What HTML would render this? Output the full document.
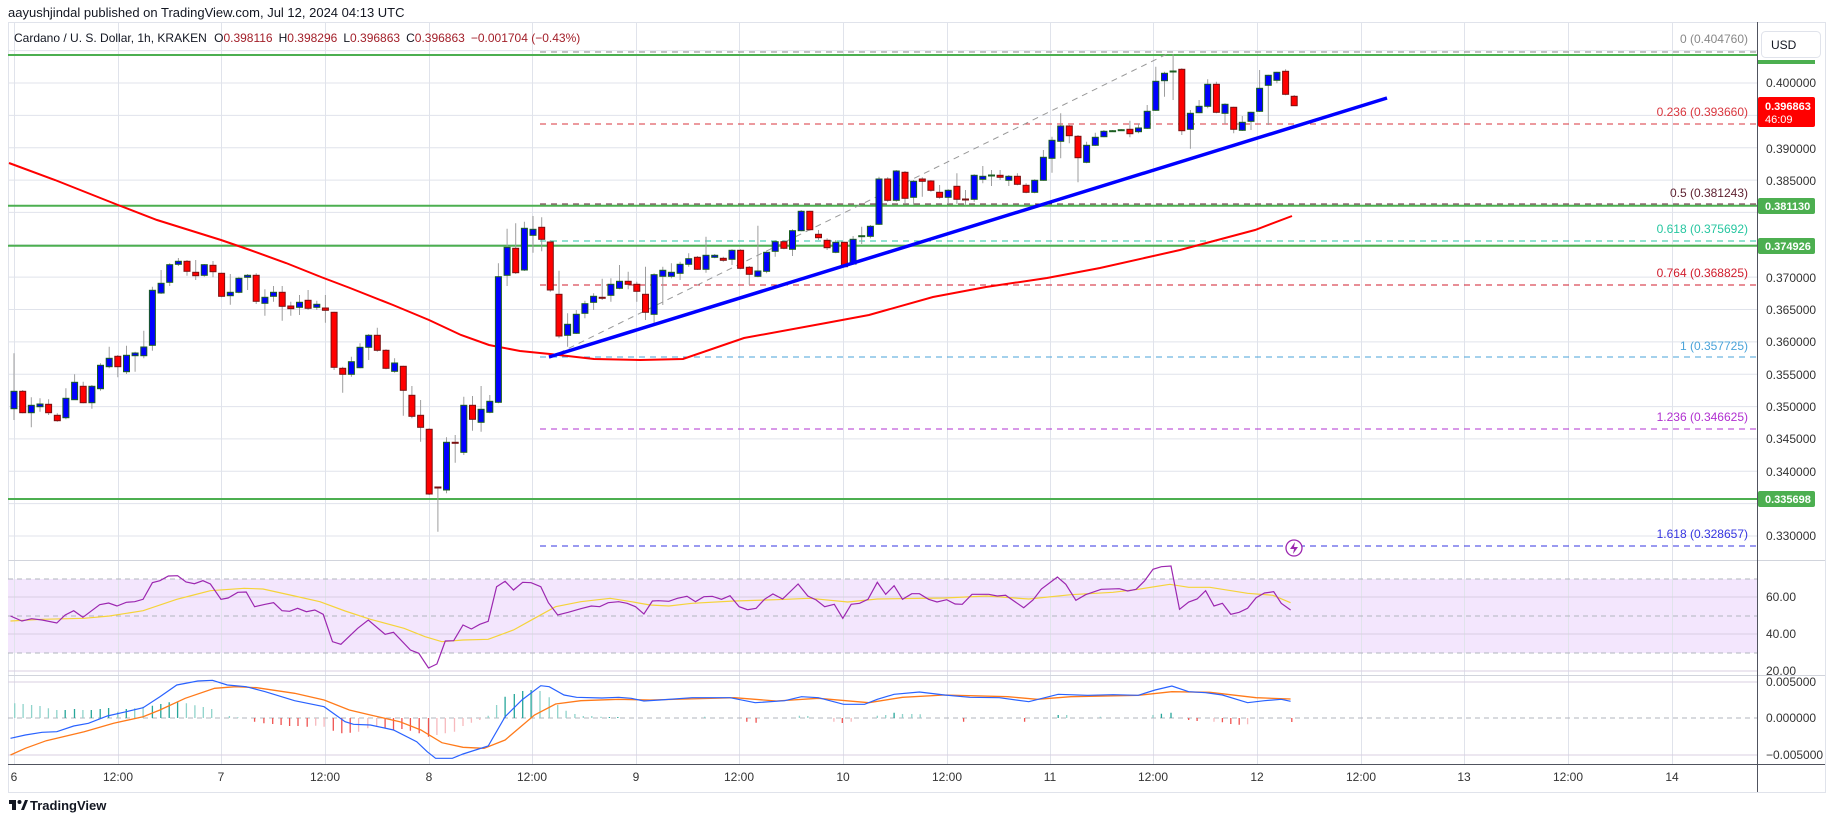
<!DOCTYPE html>
<html><head><meta charset="utf-8"><style>
html,body{margin:0;padding:0;background:#fff;}
svg{display:block;font-family:"Liberation Sans",sans-serif;}
.b{fill:#0000ff;stroke:#1b5e20;stroke-width:1}
.r{fill:#ff0000;stroke:#7b1010;stroke-width:1}
</style></head><body>
<svg width="1835" height="827" viewBox="0 0 1835 827" xmlns="http://www.w3.org/2000/svg">
<rect x="0" y="0" width="1835" height="827" fill="#fff"/>
<text x="8" y="17" font-size="13" fill="#131722">aayushjindal published on TradingView.com, Jul 12, 2024 04:13 UTC</text>
<rect x="8.5" y="22.5" width="1817" height="770" fill="none" stroke="#e0e3eb"/>
<!-- RSI band -->
<rect x="8" y="579" width="1749" height="74" fill="#f3e6fd"/>
<g stroke="#e0e3eb" stroke-width="1">
<path d="M14.5 22V764M118.5 22V764M221.5 22V764M325.5 22V764M429.5 22V764M532.5 22V764M636.5 22V764M739.5 22V764M843.5 22V764M947.5 22V764M1050.5 22V764M1153.5 22V764M1257.5 22V764M1361.5 22V764M1464.5 22V764M1568.5 22V764M1672.5 22V764"/>
<path d="M8 50.6H1757M8 83H1757M8 115.4H1757M8 147.7H1757M8 180.1H1757M8 212.4H1757M8 244.8H1757M8 277.1H1757M8 309.5H1757M8 341.9H1757M8 374.2H1757M8 406.6H1757M8 438.9H1757M8 471.3H1757M8 503.6H1757M8 536H1757"/>
<path d="M8 597H1757M8 634H1757M8 671H1757M8 682H1757M8 755H1757" stroke="#d8cfe2"/>
</g>
<g stroke="#b2b5be" stroke-dasharray="5,4" stroke-width="1">
<line x1="8" y1="579" x2="1757" y2="579"/><line x1="8" y1="616" x2="1757" y2="616"/><line x1="8" y1="653" x2="1757" y2="653"/>
<line x1="8" y1="718" x2="1757" y2="718"/>
</g>
<line x1="8" y1="560.5" x2="1825" y2="560.5" stroke="#d1d4dc"/>
<line x1="8" y1="675.5" x2="1825" y2="675.5" stroke="#d1d4dc"/>
<line x1="8" y1="764.5" x2="1825" y2="764.5" stroke="#50535e"/>
<line x1="1757.5" y1="22" x2="1757.5" y2="792" stroke="#50535e"/>
<!-- green support lines -->
<g stroke="#4caf50" stroke-width="2">
<line x1="8" y1="55" x2="1757" y2="55"/><line x1="8" y1="205.7" x2="1757" y2="205.7"/>
<line x1="8" y1="245.7" x2="1757" y2="245.7"/><line x1="8" y1="499" x2="1757" y2="499"/>
</g>
<!-- fib lines -->
<g stroke-width="1" stroke-dasharray="6,5">
<line x1="540" y1="52" x2="1757" y2="52" stroke="#888"/>
<line x1="540" y1="124" x2="1757" y2="124" stroke="#d9363e"/>
<line x1="540" y1="204" x2="1757" y2="204" stroke="#5d1f2f"/>
<line x1="540" y1="241" x2="1757" y2="241" stroke="#26c6a0"/>
<line x1="540" y1="285" x2="1757" y2="285" stroke="#d01c2c"/>
<line x1="540" y1="357" x2="1757" y2="357" stroke="#4aa3d9"/>
<line x1="540" y1="429" x2="1757" y2="429" stroke="#b030d0"/>
<line x1="540" y1="546" x2="1757" y2="546" stroke="#3535e0"/>
</g>
<line x1="549" y1="358" x2="1171" y2="52" stroke="#999" stroke-dasharray="6,5"/>
<g font-size="12" text-anchor="end">
<text x="1748" y="43" fill="#888">0 (0.404760)</text>
<text x="1748" y="116" fill="#d9363e">0.236 (0.393660)</text>
<text x="1748" y="197" fill="#5d1f2f">0.5 (0.381243)</text>
<text x="1748" y="233" fill="#26c6a0">0.618 (0.375692)</text>
<text x="1748" y="277" fill="#d01c2c">0.764 (0.368825)</text>
<text x="1748" y="350" fill="#4aa3d9">1 (0.357725)</text>
<text x="1748" y="421" fill="#b030d0">1.236 (0.346625)</text>
<text x="1748" y="538" fill="#3535e0">1.618 (0.328657)</text>
</g>
<!-- EMA -->
<polyline fill="none" stroke="#ff0000" stroke-width="2" points="9,163 55,180 118,205 157,220 221,240 250,250 286,263 321,277 350,288 393,305 429,320 461,335 489,345 520,351 550,354 594,359 640,360 683,359 744,338 826,323 869,315 933,297 986,287 1047,278 1100,268 1180,250 1255,230 1292,216"/>
<!-- wicks -->
<path stroke="#9e9e9e" stroke-width="1" fill="none" d="M14 353.3V420M22.7 390V413.3M31.3 397.3V427.3M40 398.3V411.7M48.6 399.3V415M57.3 413.3V421.7M65.9 388.3V419.3M74.6 374.3V400M83.2 381.7V403.3M91.9 385V408.7M100.5 363.3V390.7M109.2 346.7V368.3M117.8 355V377.3M126.5 345.7V374M135.1 351.7V371.7M143.8 330.7V358.3M152.4 286.7V350.7M161.1 270V294M169.7 263.3V286M178.4 258V266M187 260V275.7M195.7 260V280M204.3 264V276.7M213 261V277.3M221.6 272.7V297.3M230.3 274V304.7M238.9 276.7V293.3M247.6 274V290M256.2 273.3V304M264.9 289.3V315.7M273.5 286V301.7M282.2 286V320.7M290.8 301.7V315.7M299.5 295V315M308.1 290V310M316.8 300.7V310M325.4 295V322.7M334.1 311.7V370M342.7 366.7V392.7M351.4 356.7V376.7M360 343.3V368.3M368.7 334V360M377.3 327.7V351.7M386 349.3V369.3M394.6 358.3V372.7M403.3 365.7V415.7M411.9 386V418.3M420.6 400V441.7M429.2 428.3V495M437.9 486.7V531.7M446.5 437.3V493.3M455.2 435V462.7M463.8 396.7V455M472.5 396V430.7M481.1 386V431.7M489.8 395V413.3M498.4 263.3V403.3M507.1 228.7V286M515.7 223.3V274M524.4 221.7V271M533 216V252.7M541.7 217.3V251.3M550.3 240V291.7M559 270.7V338.3M567.6 313.3V346.7M576.3 310V334M584.9 300.7V318.3M593.6 293.3V310M602.2 278.7V300M610.9 278.3V301.7M619.5 265V289.3M628.2 271.7V289.3M636.8 281.7V301.7M645.5 266.7V320M654.1 273.3V323.3M662.8 266.7V305M671.4 263.3V278.3M680.1 261.7V280M688.7 253.3V266.7M697.4 256V270M706 236.7V272.7M714.7 254V258.3M723.3 256.7V261.7M732 249.3V265M740.6 249.3V269.3M749.3 266V285M757.9 225.7V277.3M766.6 251.7V273.3M775.2 240V256.7M783.9 240V249.3M792.5 229.3V256M801.2 210V231.3M809.8 210.7V230.7M818.5 230V240M827.1 238.3V250M835.8 240V253.3M844.4 241.7V267.3M853.1 236V265M861.7 226.7V244M870.4 225V238.3M879 176.7V225M887.7 177.3V201.7M896.3 170V201.7M905 171V204M913.6 180V205M922.3 177.3V196.7M930.9 180V191.7M939.6 185V198.7M948.2 189.3V204M956.9 173.3V204M965.5 190V205.3M974.2 174.3V201.7M982.8 166V183.3M991.5 170V186M1000.1 170V180M1008.8 175V186M1017.4 173.3V185.3M1026.1 183.3V193.3M1034.7 179.3V193.3M1043.4 150V180.7M1052 136.7V172.7M1060.7 113.3V158.3M1069.3 125V143.3M1078 135V182.3M1086.6 141.7V163.3M1095.3 132.7V146M1103.9 130V137.3M1112.6 130V132M1121.2 129V131M1129.9 120.7V137.3M1138.5 123.3V133.3M1147.2 105V129M1155.8 66.7V111M1164.5 71.7V96.7M1173.1 54V100M1181.8 68.3V135M1190.4 110V148.7M1199.1 100V113.3M1207.7 79.3V108.3M1216.4 81.7V113.3M1225 103.3V124M1233.7 106.7V133.3M1242.3 116V131M1251 111.7V130M1259.6 70V112M1268.3 74.7V125M1276.9 71.7V83.3M1285.6 69.3V95.3M1294.2 95V106"/>
<!-- bodies -->
<g>
<rect class="b" x="11" y="391.3" width="6" height="17.4"/><rect class="r" x="19.7" y="391.3" width="6" height="21.4"/><rect class="b" x="28.3" y="405.3" width="6" height="7.4"/><rect class="b" x="37" y="404" width="6" height="2.7"/><rect class="r" x="45.6" y="404.3" width="6" height="8.4"/><rect class="r" x="54.3" y="415.3" width="6" height="5.4"/><rect class="b" x="62.9" y="398.3" width="6" height="19.4"/><rect class="b" x="71.6" y="382.3" width="6" height="17.4"/><rect class="r" x="80.2" y="386.3" width="6" height="16.4"/><rect class="b" x="88.9" y="386.3" width="6" height="16.4"/>
<rect class="b" x="97.5" y="365.3" width="6" height="23.4"/><rect class="b" x="106.2" y="358.3" width="6" height="8.4"/><rect class="r" x="114.8" y="356.3" width="6" height="10.4"/><rect class="b" x="123.5" y="355.3" width="6" height="16.4"/><rect class="b" x="132.1" y="353" width="6" height="2.7"/><rect class="b" x="140.8" y="347" width="6" height="8.7"/><rect class="b" x="149.4" y="290.3" width="6" height="55"/><rect class="b" x="158.1" y="283.3" width="6" height="9.7"/><rect class="b" x="166.7" y="264.7" width="6" height="17.6"/><rect class="b" x="175.4" y="261.3" width="6" height="3"/>
<rect class="r" x="184" y="261.3" width="6" height="10"/><rect class="r" x="192.7" y="272.3" width="6" height="3.4"/><rect class="b" x="201.3" y="264.7" width="6" height="10.6"/><rect class="r" x="210" y="265.3" width="6" height="6.4"/><rect class="r" x="218.6" y="273.3" width="6" height="23"/><rect class="b" x="227.3" y="292.3" width="6" height="3.4"/><rect class="b" x="235.9" y="278.3" width="6" height="14"/><rect class="b" x="244.6" y="275.3" width="6" height="2"/><rect class="r" x="253.2" y="275.3" width="6" height="26"/><rect class="b" x="261.9" y="297.3" width="6" height="6"/>
<rect class="b" x="270.5" y="292.3" width="6" height="4"/><rect class="r" x="279.2" y="292.3" width="6" height="14"/><rect class="r" x="287.8" y="306" width="6" height="2.7"/><rect class="b" x="296.5" y="302.3" width="6" height="5"/><rect class="r" x="305.1" y="300.3" width="6" height="8"/><rect class="b" x="313.8" y="304.3" width="6" height="3"/><rect class="r" x="322.4" y="308" width="6" height="2.3"/><rect class="r" x="331.1" y="312.3" width="6" height="55"/><rect class="r" x="339.7" y="368.3" width="6" height="6"/><rect class="b" x="348.4" y="361.7" width="6" height="12.6"/>
<rect class="b" x="357" y="347.3" width="6" height="20.4"/><rect class="b" x="365.7" y="335.3" width="6" height="12"/><rect class="r" x="374.3" y="335.3" width="6" height="15"/><rect class="r" x="383" y="350.3" width="6" height="18"/><rect class="b" x="391.6" y="363" width="6" height="8.3"/><rect class="r" x="400.3" y="366.3" width="6" height="24"/><rect class="r" x="408.9" y="395.3" width="6" height="21"/><rect class="r" x="417.6" y="415.3" width="6" height="12"/><rect class="r" x="426.2" y="429.3" width="6" height="64.7"/><rect class="r" x="434.9" y="487" width="6" height="1"/>
<rect class="b" x="443.5" y="442.3" width="6" height="47.7"/><rect class="r" x="452.2" y="442.3" width="6" height="1"/><rect class="b" x="460.8" y="405.3" width="6" height="47"/><rect class="r" x="469.5" y="405.3" width="6" height="14"/><rect class="b" x="478.1" y="409.3" width="6" height="13"/><rect class="b" x="486.8" y="401.3" width="6" height="11"/><rect class="b" x="495.4" y="276.7" width="6" height="125.6"/><rect class="b" x="504.1" y="247.3" width="6" height="28"/><rect class="r" x="512.7" y="248.3" width="6" height="24.4"/><rect class="b" x="521.4" y="228.3" width="6" height="41.7"/>
<rect class="b" x="530" y="229.3" width="6" height="6"/><rect class="r" x="538.7" y="227.3" width="6" height="12"/><rect class="r" x="547.3" y="242" width="6" height="48"/><rect class="r" x="556" y="294.3" width="6" height="41.7"/><rect class="b" x="564.6" y="324.3" width="6" height="11"/><rect class="b" x="573.3" y="314.3" width="6" height="19"/><rect class="b" x="581.9" y="303.7" width="6" height="9.6"/><rect class="b" x="590.6" y="296.3" width="6" height="6"/><rect class="r" x="599.2" y="297.3" width="6" height="1"/><rect class="b" x="607.9" y="284.3" width="6" height="11"/>
<rect class="b" x="616.5" y="281.3" width="6" height="7"/><rect class="r" x="625.2" y="281.3" width="6" height="3"/><rect class="r" x="633.8" y="284.3" width="6" height="7"/><rect class="r" x="642.5" y="294.3" width="6" height="18"/><rect class="b" x="651.1" y="274.7" width="6" height="39.6"/><rect class="b" x="659.8" y="270.3" width="6" height="6"/><rect class="b" x="668.4" y="272.3" width="6" height="4"/><rect class="b" x="677.1" y="264.3" width="6" height="9"/><rect class="b" x="685.7" y="258.7" width="6" height="5.6"/><rect class="r" x="694.4" y="257.3" width="6" height="12"/>
<rect class="b" x="703" y="255.3" width="6" height="14"/><rect class="b" x="711.7" y="255.3" width="6" height="2"/><rect class="r" x="720.3" y="258.3" width="6" height="2"/><rect class="b" x="729" y="250.3" width="6" height="9"/><rect class="r" x="737.6" y="250.3" width="6" height="18"/><rect class="r" x="746.3" y="267.3" width="6" height="7"/><rect class="b" x="754.9" y="271" width="6" height="5.3"/><rect class="b" x="763.6" y="252.3" width="6" height="19"/><rect class="b" x="772.2" y="241.7" width="6" height="9.6"/><rect class="r" x="780.9" y="241.7" width="6" height="6.6"/>
<rect class="b" x="789.5" y="230.7" width="6" height="18.6"/><rect class="b" x="798.2" y="211.3" width="6" height="19.4"/><rect class="r" x="806.8" y="211.3" width="6" height="18.4"/><rect class="r" x="815.5" y="234.3" width="6" height="3.4"/><rect class="r" x="824.1" y="240.3" width="6" height="7.4"/><rect class="b" x="832.8" y="242.3" width="6" height="10"/><rect class="r" x="841.4" y="242.3" width="6" height="24.4"/><rect class="b" x="850.1" y="239.3" width="6" height="24.7"/><rect class="b" x="858.7" y="235.7" width="6" height="1"/><rect class="b" x="867.4" y="226.3" width="6" height="10"/>
<rect class="b" x="876" y="179" width="6" height="45.3"/><rect class="r" x="884.7" y="179" width="6" height="21.3"/><rect class="b" x="893.3" y="171" width="6" height="29.3"/><rect class="r" x="902" y="172.3" width="6" height="26"/><rect class="b" x="910.6" y="181.3" width="6" height="16"/><rect class="r" x="919.3" y="179" width="6" height="2.3"/><rect class="r" x="927.9" y="181" width="6" height="9.3"/><rect class="r" x="936.6" y="192.3" width="6" height="5"/><rect class="b" x="945.2" y="190.3" width="6" height="7"/><rect class="r" x="953.9" y="186.3" width="6" height="13"/>
<rect class="r" x="962.5" y="199" width="6" height="1"/><rect class="b" x="971.2" y="175.3" width="6" height="24"/><rect class="b" x="979.8" y="176.3" width="6" height="3"/><rect class="b" x="988.5" y="175" width="6" height="1"/><rect class="r" x="997.1" y="175.3" width="6" height="2"/><rect class="b" x="1005.8" y="176.3" width="6" height="4"/><rect class="r" x="1014.4" y="176.3" width="6" height="8"/><rect class="r" x="1023.1" y="185.3" width="6" height="7"/><rect class="b" x="1031.7" y="180.3" width="6" height="12"/><rect class="b" x="1040.4" y="157.3" width="6" height="23"/>
<rect class="b" x="1049" y="140.3" width="6" height="18"/><rect class="b" x="1057.7" y="126" width="6" height="15.3"/><rect class="r" x="1066.3" y="126" width="6" height="9.7"/><rect class="r" x="1075" y="136.3" width="6" height="21.4"/><rect class="b" x="1083.6" y="145.3" width="6" height="17"/><rect class="b" x="1092.3" y="137.3" width="6" height="8"/><rect class="b" x="1100.9" y="131.3" width="6" height="5.4"/><rect class="b" x="1109.6" y="130.7" width="6" height="1"/><rect class="b" x="1118.2" y="129.7" width="6" height="1"/><rect class="r" x="1126.9" y="129.3" width="6" height="4.4"/>
<rect class="b" x="1135.5" y="128" width="6" height="3.7"/><rect class="b" x="1144.2" y="111.3" width="6" height="17"/><rect class="b" x="1152.8" y="81.3" width="6" height="29"/><rect class="b" x="1161.5" y="73.3" width="6" height="7.4"/><rect class="b" x="1170.1" y="71" width="6" height="1"/><rect class="r" x="1178.8" y="69.3" width="6" height="61.4"/><rect class="b" x="1187.4" y="113.3" width="6" height="16"/><rect class="b" x="1196.1" y="106.3" width="6" height="6.4"/><rect class="b" x="1204.7" y="84.3" width="6" height="22"/><rect class="r" x="1213.4" y="84.3" width="6" height="28"/>
<rect class="b" x="1222" y="104.3" width="6" height="9"/><rect class="r" x="1230.7" y="107.3" width="6" height="22"/><rect class="b" x="1239.3" y="122.3" width="6" height="8"/><rect class="b" x="1248" y="112.3" width="6" height="9"/><rect class="b" x="1256.6" y="88.3" width="6" height="23"/><rect class="b" x="1265.3" y="75.3" width="6" height="10"/><rect class="b" x="1273.9" y="72.3" width="6" height="8"/><rect class="r" x="1282.6" y="71.3" width="6" height="23"/><rect class="r" x="1291.2" y="96.3" width="6" height="9.4"/>
</g>
<line x1="549" y1="357" x2="1387" y2="98" stroke="#0000ff" stroke-width="3.5"/>
<circle cx="1294" cy="548" r="8" fill="#fff" stroke="#9c27b0" stroke-width="1.3"/>
<path d="M1295 542 L1290 549 L1294 549 L1293 554 L1298 547 L1294 547 Z" fill="#9c27b0"/>
<!-- RSI -->
<polyline fill="none" stroke="#f5d33a" stroke-width="1.2" points="10.5,621 42.1,619.3 84.2,618.3 109.4,616 143.1,610.7 176.8,599.3 193.6,595 210.4,590.7 244.1,588.3 263,589 294.6,596 319.9,601.7 345.1,611 370.4,619.3 404,628.3 425.1,636.7 441.9,641.7 463,640 488.2,639.3 513.5,630 534.5,618.3 555.6,606.7 580.8,601.7 610.3,598.3 631.3,601.7 650,605 668.9,606 692.1,603.3 734.2,601 776.3,599.7 809.9,598.3 847.8,602 877.3,599 944.6,598 986.7,596 1028.8,599 1070.9,594.7 1113,592.3 1138.2,589.3 1169.8,584.3 1188.7,587.3 1209.8,587.3 1247.6,593.3 1272.9,595.3 1290.6,602.7"/>
<polyline fill="none" stroke="#9c27b0" stroke-width="1.2" points="10.5,616 21.9,621 31.6,618.7 42.1,620 56.8,623 65.2,615 73.7,610.7 82.9,617.3 99.7,604.7 108.6,603 117,606 126.3,602.3 134.7,601.7 143.1,599.3 152.4,582.7 159.9,580.7 168.4,576 177.6,575.7 186,582 194.4,583.7 202.9,580.7 210.4,584 221,599.3 228.1,598 237.8,592.3 246.2,592 254.6,606.7 265.2,604.3 273.6,602.7 282,610.7 289.6,611.3 297.6,608.3 306.4,611.7 314.8,610 323.2,614.3 332.5,641.7 340.9,644.3 357.7,628.3 368.3,620 385.1,634.3 393.5,632.3 410.4,650 418.8,653.3 428.5,668 436.9,664 445.3,641 453.7,640.7 463,625 471.4,629 479.8,624.3 488.2,621.3 496.6,586.7 505.1,581.3 513.5,590 522.7,582.3 531.1,582.7 540.8,586.7 548.4,602.7 557.7,615 568.2,612.3 580.8,608.7 591.3,606 599.7,606.7 608.2,602.7 618.7,601.7 627.1,603.3 635.5,606.7 643.9,614 652.4,601 658.4,600.7 668.9,601.3 677.4,598.3 687,596.3 695.5,601.7 703.9,596.7 712.3,596.3 721.5,599.3 730,595.7 739.2,606.7 747.6,609.7 756.1,608.3 764.5,599.3 772.9,594 782.6,599 798.1,584 807.8,596 816.2,600 824.7,606.7 834.3,604.3 842.8,618.3 851.2,604.3 859.6,603.3 868,599.3 877.3,582.3 885.7,594.3 894.1,585.7 902.5,599.3 911.8,593.7 919.4,593.7 928.6,599.3 937,602 946.7,599.7 955.1,604 962.3,604.3 972,594.3 988.8,594.3 997.2,596 1005.6,595.3 1023.7,607.7 1033,600 1041.4,589 1057.4,577 1065.8,584.3 1075.9,600.3 1085.6,594.7 1101.2,589.3 1119.3,588.7 1127.7,591 1136.1,589.3 1144.5,581 1153,569.3 1161.4,566.7 1171,566 1179.5,609.3 1188.7,602 1197.1,599 1205.6,590.7 1214,606 1222.4,603.3 1230.8,614.3 1239.2,612.3 1247.6,608.3 1256.1,597.7 1264.5,593 1273.7,591.7 1281.3,603.3 1290.6,610"/>
<!-- MACD histogram -->
<g stroke="#8fd3cb" stroke-width="1.3">
<path d="M14.7 718V703.3M23.1 718V704M31.6 718V705M40 718V706M48.4 718V708.3M56.8 718V710M82.9 718V710M117.8 718V711.7M134.7 718V708.3M143.1 718V706.7M186.4 718V703.3M194.9 718V705.3M203.3 718V707M211.7 718V709M229.4 718V716M237.8 718V717.3M488.2 718V715.7M496.6 718V705M540 718V691M549.2 718V697.3M557.7 718V705M566.1 718V710.7M574.9 718V714M583.3 718V716M591.8 718V716M601 718V716.7M704.7 718V716.7M799.4 718V715.7M807.8 718V716M877.3 718V715.7M885.7 718V715M902.5 718V714M911.8 718V714M920.2 718V714.3M1066.7 718V715M1100.3 718V716.7M1153 718V715"/>
<path stroke="#26a69a" d="M65.2 718V710M74.5 718V709M91.3 718V710M100.2 718V709M108.6 718V708M126.3 718V709M152.4 718V705.7M160.8 718V704M169.2 718V702.3M177.6 718V701.7M505.1 718V696.7M514.3 718V694M522.7 718V691M531.1 718V690M609.4 718V717M617.8 718V717M894.1 718V712.7M1058.2 718V715M1161.4 718V713.7M1171 718V712.7"/>
</g>
<g stroke="#ef5350" stroke-width="1.3">
<path d="M254.6 718V721.7M263.9 718V723.3M272.7 718V724M281.1 718V725M289.6 718V726M298 718V726M307.2 718V726.7M333.3 718V730.7M341.8 718V733.3M350.2 718V732.7M385.1 718V728.3M393.5 718V730M401.9 718V729M410.4 718V730.7M419.2 718V733.3M428.5 718V736.7M746.8 718V721.7M756.1 718V722.7M842.3 718V723M963.6 718V721.7M1024.6 718V721.7M1188.7 718V720M1197.1 718V721M1222.4 718V722.3M1230.8 718V724M1239.2 718V724.7M1291.8 718V722"/>
<path stroke="#f7b9bd" d="M315.7 718V725.7M324.1 718V726.7M358.6 718V731.7M367.8 718V728.3M376.7 718V726.7M436.9 718V735M445.3 718V733.3M454.5 718V731.7M463 718V726M471.4 718V722.7M479.8 718V720M833.9 718V721.7M851.2 718V721.7M1214 718V721.7M1247.6 718V724.3"/>
</g>
<polyline fill="none" stroke="#ff7a1a" stroke-width="1.3" points="10.5,755 25.3,748.3 46.3,740.7 84.2,731.7 113.6,723.3 143.1,716.7 159.9,710 185.2,698.3 214.6,688.3 235.7,686.7 256.7,687.7 294.6,693.3 324.1,700 349.3,710 370.4,715 399.8,721.7 420.9,730 441.9,742.7 463,747.3 484,748.3 505.1,740 534.5,715 555.6,704 580.8,700.7 618.7,699.3 650,700 734.2,697.7 776.3,701 818.4,698.3 868.8,702.7 902.5,697.3 944.6,695 1007.7,696.7 1037.2,699.3 1070.9,696.7 1138.2,695.3 1171.9,691.7 1209.8,692.3 1256.1,697.7 1290.6,699"/>
<polyline fill="none" stroke="#2962ff" stroke-width="1.2" points="10.5,738.3 25.3,735 42.1,732.3 56.8,731.7 73.7,726 88.4,723.3 107.3,716 126.3,711.7 143.1,707.7 159.9,696.7 176.8,685 197.8,681 212.5,680.3 227.3,685 246.2,686.7 265.2,691.7 294.6,700.7 324.1,706.7 345.1,721.7 353.5,724.3 370.4,725 393.5,730 416.7,741.7 427.2,751.7 435.6,758.3 452.4,758.3 463,754 488.2,746 505.1,716.7 521.9,700 540.8,685.7 549.2,686.7 564,695 576.6,697.3 601.9,698 618.7,697.3 631.3,698.3 643.9,701 660,700 692.1,697.7 730,697.7 755.2,702.7 784.7,700.7 801.5,696.7 818.4,697.7 843.6,704.3 864.6,704.3 877.3,699.3 894.1,694.3 919.4,692 944.6,695 969.9,697.3 999.3,697.7 1028.8,701.7 1058.2,694.3 1087.7,695.3 1113,694.7 1138.2,695.3 1155.1,690 1171.9,686 1188.7,691.7 1205.6,692.7 1222.4,695 1247.6,702.7 1264.5,700.7 1281.3,699.3 1290.6,701.3"/>
<!-- header line 2 -->
<text x="14" y="42" font-size="12" fill="#131722">Cardano / U. S. Dollar, 1h, KRAKEN <tspan dx="4">O</tspan><tspan fill="#a3202a">0.398116</tspan><tspan dx="6">H</tspan><tspan fill="#a3202a">0.398296</tspan><tspan dx="6">L</tspan><tspan fill="#a3202a">0.396863</tspan><tspan dx="6">C</tspan><tspan fill="#a3202a">0.396863</tspan><tspan dx="6" fill="#a3202a">−0.001704 (−0.43%)</tspan></text>
<!-- price axis -->
<g font-size="12" fill="#333">
<text x="1766" y="87">0.400000</text>
<text x="1766" y="153">0.390000</text>
<text x="1766" y="185">0.385000</text>
<text x="1766" y="282">0.370000</text>
<text x="1766" y="314">0.365000</text>
<text x="1766" y="346">0.360000</text>
<text x="1766" y="379">0.355000</text>
<text x="1766" y="411">0.350000</text>
<text x="1766" y="443">0.345000</text>
<text x="1766" y="476">0.340000</text>
<text x="1766" y="540">0.330000</text>
<text x="1766" y="601">60.00</text>
<text x="1766" y="638">40.00</text>
<text x="1766" y="675">20.00</text>
<text x="1766" y="686">0.005000</text>
<text x="1766" y="722">0.000000</text>
<text x="1766" y="759">−0.005000</text>
</g>
<rect x="1761.5" y="31.5" width="59" height="26" rx="4" fill="#fff" stroke="#e0e3eb"/>
<text x="1771" y="49" font-size="12" fill="#131722">USD</text>
<rect x="1758" y="60" width="57" height="4" fill="#4caf50"/>
<rect x="1758" y="97" width="57" height="30" rx="2" fill="#ff0000"/>
<text x="1765" y="110" font-size="11" font-weight="bold" fill="#fff">0.396863</text>
<text x="1765" y="123" font-size="11" fill="#fff">46:09</text>
<rect x="1758" y="198" width="57" height="16" rx="2" fill="#4caf50"/>
<text x="1765" y="210" font-size="11" font-weight="bold" fill="#fff">0.381130</text>
<rect x="1758" y="238" width="57" height="16" rx="2" fill="#4caf50"/>
<text x="1765" y="250" font-size="11" font-weight="bold" fill="#fff">0.374926</text>
<rect x="1758" y="491" width="57" height="16" rx="2" fill="#4caf50"/>
<text x="1765" y="503" font-size="11" font-weight="bold" fill="#fff">0.335698</text>
<!-- time axis -->
<g font-size="12" fill="#333" text-anchor="middle">
<text x="14" y="781">6</text><text x="118" y="781">12:00</text><text x="221" y="781">7</text><text x="325" y="781">12:00</text>
<text x="429" y="781">8</text><text x="532" y="781">12:00</text><text x="636" y="781">9</text><text x="739" y="781">12:00</text>
<text x="843" y="781">10</text><text x="947" y="781">12:00</text><text x="1050" y="781">11</text><text x="1153" y="781">12:00</text>
<text x="1257" y="781">12</text><text x="1361" y="781">12:00</text><text x="1464" y="781">13</text><text x="1568" y="781">12:00</text>
<text x="1672" y="781">14</text>
</g>
<!-- logo -->
<g transform="translate(9,797)">
<rect x="0" y="3" width="7" height="4" fill="#131722"/><rect x="3" y="3" width="4" height="10" fill="#131722"/>
<circle cx="10.5" cy="5" r="2" fill="#131722"/><path d="M12 13 L16 3 L19 3 L15 13 Z" fill="#131722"/>
</g>
<text x="30" y="810" font-size="13" font-weight="bold" fill="#131722">TradingView</text>
</svg>
</body></html>
